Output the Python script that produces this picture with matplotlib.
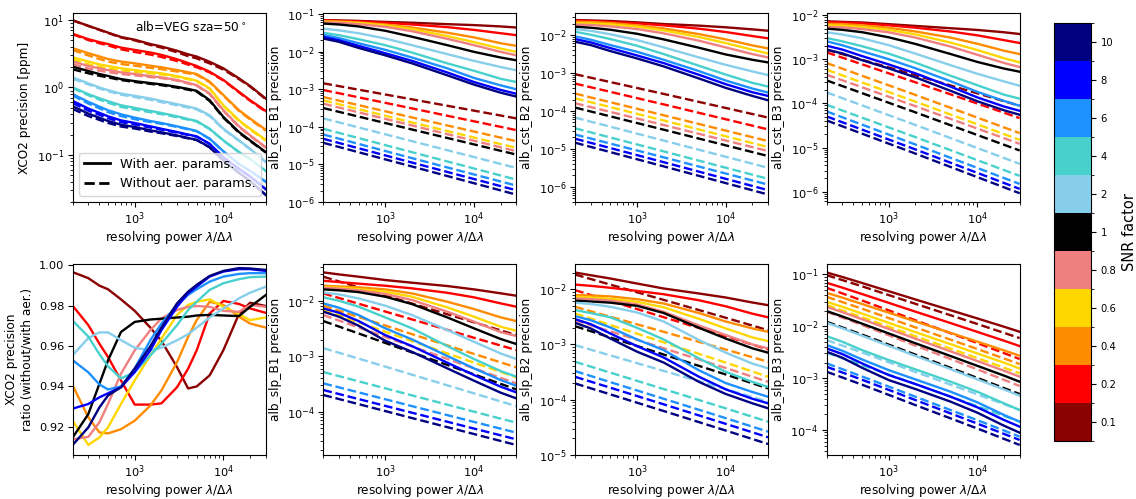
import numpy as np
import matplotlib
matplotlib.use("Agg")
import matplotlib.pyplot as plt
from matplotlib.colors import ListedColormap, BoundaryNorm
from matplotlib.cm import ScalarMappable
from matplotlib.lines import Line2D

# ---------------------------------------------------------------- data
snr_labels = ["0.1", "0.2", "0.4", "0.6", "0.8", "1", "2", "4", "6", "8", "10"]
snr_colors = ["darkred", "red", "darkorange", "gold", "lightcoral", "black",
              "skyblue", "mediumturquoise", "dodgerblue", "blue", "navy"]

res_fine = [200, 300, 400, 500, 700, 1000, 1500, 2000, 3000, 4000, 5000,
            7000, 10000, 15000, 20000, 30000]
res = [200, 300, 500, 1000, 2000, 5000, 10000, 20000, 30000]
res_dash_top = [200, 2000, 30000]
res_dash_bot = [200, 500, 2000, 10000, 30000]

# XCO2 precision [ppm] with aerosol parameters (on res_fine)
xco2_with = [
    [9.9, 8.2, 7.2, 6.5, 5.6, 5.1, 4.4, 4.05, 3.5, 3.1, 2.87, 2.4, 1.92, 1.36, 1.05, 0.685],
    [6.25, 5.2, 4.7, 4.4, 3.9, 3.6, 3.3, 3.04, 2.62, 2.3, 2.08, 1.71, 1.29, 0.86, 0.647, 0.449],
    [3.82, 3.22, 2.88, 2.64, 2.42, 2.28, 2.1, 1.99, 1.81, 1.68, 1.58, 1.22, 0.77, 0.459, 0.345, 0.236],
    [2.8, 2.42, 2.2, 2.08, 1.92, 1.81, 1.69, 1.62, 1.47, 1.35, 1.26, 0.97, 0.545, 0.325, 0.244, 0.167],
    [2.42, 2.08, 1.92, 1.81, 1.67, 1.58, 1.47, 1.41, 1.29, 1.17, 1.08, 0.814, 0.459, 0.265, 0.195, 0.130],
    [2.03, 1.75, 1.58, 1.48, 1.33, 1.24, 1.16, 1.11, 1.02, 0.95, 0.89, 0.647, 0.365, 0.218, 0.164, 0.110],
    [1.41, 1.15, 1.0, 0.91, 0.81, 0.75, 0.685, 0.63, 0.565, 0.52, 0.486, 0.387, 0.244, 0.164, 0.123, 0.079],
    [1.0, 0.795, 0.69, 0.625, 0.545, 0.497, 0.449, 0.418, 0.373, 0.34, 0.318, 0.244, 0.164, 0.11, 0.087, 0.058],
    [0.795, 0.61, 0.52, 0.459, 0.40, 0.357, 0.318, 0.297, 0.265, 0.243, 0.226, 0.174, 0.113, 0.073, 0.058, 0.040],
    [0.632, 0.486, 0.42, 0.373, 0.325, 0.297, 0.265, 0.244, 0.218, 0.2, 0.188, 0.146, 0.092, 0.062, 0.048, 0.031],
    [0.527, 0.409, 0.355, 0.318, 0.28, 0.259, 0.231, 0.216, 0.194, 0.178, 0.167, 0.13, 0.082, 0.054, 0.041, 0.0255],
]

# XCO2 precision ratio without/with aerosol parameters (on res_fine)
xco2_ratio = [
    [0.9967, 0.9937, 0.9900, 0.9882, 0.9832, 0.9775, 0.9692, 0.9626, 0.9496, 0.9390, 0.9400, 0.9455, 0.9580, 0.9760, 0.9815, 0.9799],
    [0.9800, 0.9704, 0.9612, 0.9546, 0.9430, 0.9310, 0.9310, 0.9316, 0.9396, 0.9488, 0.9579, 0.9762, 0.9824, 0.9809, 0.9787, 0.9765],
    [0.9405, 0.9247, 0.9172, 0.9167, 0.9188, 0.9230, 0.9305, 0.9380, 0.9520, 0.9646, 0.9729, 0.9820, 0.9804, 0.9746, 0.9712, 0.9692],
    [0.9230, 0.9110, 0.9147, 0.9197, 0.9313, 0.9430, 0.9554, 0.9637, 0.9754, 0.9804, 0.9820, 0.9832, 0.9795, 0.9759, 0.9729, 0.9742],
    [0.9138, 0.9150, 0.9222, 0.9313, 0.9463, 0.9579, 0.9679, 0.9737, 0.9779, 0.9795, 0.9799, 0.9795, 0.9775, 0.9770, 0.9804, 0.9795],
    [0.9147, 0.9263, 0.9413, 0.9529, 0.9670, 0.9720, 0.9732, 0.9736, 0.9742, 0.9746, 0.9752, 0.9755, 0.9752, 0.9749, 0.9795, 0.9853],
    [0.9555, 0.9640, 0.9668, 0.9668, 0.9630, 0.9592, 0.9579, 0.9592, 0.9629, 0.9659, 0.9692, 0.9742, 0.9787, 0.9837, 0.9865, 0.9895],
    [0.9726, 0.9647, 0.9560, 0.9500, 0.9440, 0.9471, 0.9554, 0.9612, 0.9704, 0.9779, 0.9820, 0.9879, 0.9912, 0.9932, 0.9942, 0.9945],
    [0.9530, 0.9470, 0.9410, 0.9385, 0.9400, 0.9490, 0.9629, 0.9712, 0.9804, 0.9854, 0.9882, 0.9920, 0.9945, 0.9958, 0.9962, 0.9962],
    [0.9290, 0.9313, 0.9346, 0.9366, 0.9396, 0.9471, 0.9579, 0.9679, 0.9795, 0.9862, 0.9895, 0.9945, 0.9970, 0.9982, 0.9982, 0.9973],
    [0.9110, 0.9197, 0.9296, 0.9355, 0.9396, 0.9488, 0.9599, 0.9692, 0.9812, 0.9870, 0.9904, 0.9948, 0.9973, 0.9987, 0.9985, 0.9978],
]

# albedo constant term, band 1
cst_b1_with = [
    [0.069, 0.068, 0.066, 0.062, 0.059, 0.054, 0.051, 0.047, 0.044],
    [0.068, 0.066, 0.064, 0.059, 0.053, 0.045, 0.038, 0.031, 0.0275],
    [0.065, 0.064, 0.060, 0.053, 0.044, 0.032, 0.024, 0.0168, 0.0143],
    [0.062, 0.061, 0.058, 0.050, 0.040, 0.026, 0.018, 0.0121, 0.0099],
    [0.060, 0.059, 0.054, 0.046, 0.035, 0.022, 0.0149, 0.0099, 0.0080],
    [0.056, 0.053, 0.047, 0.036, 0.025, 0.0149, 0.0099, 0.0070, 0.0059],
    [0.041, 0.037, 0.031, 0.0224, 0.0149, 0.0086, 0.0057, 0.0039, 0.0032],
    [0.032, 0.0275, 0.0215, 0.0149, 0.0095, 0.0049, 0.0031, 0.0019, 0.00156],
    [0.028, 0.023, 0.0168, 0.0112, 0.0070, 0.0036, 0.0020, 0.00127, 0.00100],
    [0.0248, 0.0202, 0.0143, 0.0091, 0.0057, 0.0028, 0.00156, 0.00096, 0.00076],
    [0.0224, 0.0183, 0.0126, 0.0080, 0.0049, 0.00235, 0.00133, 0.00081, 0.00064],
]
cst_b1_without = [
    [1.44e-3, 5.4e-4, 1.68e-4],
    [9.55e-4, 3.1e-4, 8.18e-5],
    [6.22e-4, 1.78e-4, 4.16e-5],
    [5.07e-4, 1.31e-4, 2.76e-5],
    [4.13e-4, 1.09e-4, 2.25e-5],
    [3.16e-4, 8.5e-5, 1.83e-5],
    [1.68e-4, 4.16e-5, 8.07e-6],
    [8.87e-5, 2.12e-5, 3.94e-6],
    [6.26e-5, 1.47e-5, 2.73e-6],
    [4.81e-5, 1.12e-5, 2.05e-6],
    [3.76e-5, 8.8e-6, 1.57e-6],
]

# albedo constant term, band 2
cst_b2_with = [
    [0.0249, 0.0242, 0.0234, 0.0216, 0.0195, 0.0177, 0.0160, 0.0141, 0.0130],
    [0.0239, 0.0234, 0.0221, 0.0203, 0.0180, 0.0147, 0.0120, 0.0094, 0.0082],
    [0.0225, 0.0221, 0.0208, 0.0180, 0.0149, 0.0106, 0.00768, 0.00533, 0.00445],
    [0.0207, 0.0203, 0.0191, 0.0166, 0.0133, 0.00886, 0.00615, 0.00409, 0.00327],
    [0.0188, 0.0184, 0.0169, 0.0144, 0.0111, 0.00708, 0.00472, 0.00315, 0.00257],
    [0.0166, 0.0156, 0.0138, 0.0108, 0.00768, 0.00462, 0.00308, 0.00223, 0.00190],
    [0.0144, 0.0129, 0.0105, 0.00738, 0.00472, 0.00257, 0.00164, 0.00110, 0.00088],
    [0.0122, 0.0102, 0.00784, 0.00522, 0.00315, 0.00155, 0.00091, 0.00055, 0.00044],
    [0.00922, 0.00753, 0.00545, 0.00362, 0.00223, 0.00112, 0.000634, 0.000389, 0.000305],
    [0.00784, 0.00640, 0.00453, 0.00290, 0.00182, 0.000895, 0.000507, 0.000311, 0.000249],
    [0.00667, 0.00545, 0.00378, 0.00242, 0.00149, 0.000716, 0.000406, 0.000249, 0.000191],
]
cst_b2_without = [
    [9.3e-4, 2.81e-4, 6.7e-5],
    [5.27e-4, 1.49e-4, 3.27e-5],
    [2.87e-4, 7.7e-5, 1.61e-5],
    [2.16e-4, 5.6e-5, 1.12e-5],
    [1.6e-4, 4.26e-5, 8.8e-6],
    [1.23e-4, 3.21e-5, 6.5e-6],
    [6.7e-5, 1.66e-5, 3.18e-6],
    [3.5e-5, 8.6e-6, 1.63e-6],
    [2.4e-5, 6.0e-6, 1.15e-6],
    [1.86e-5, 4.47e-6, 8.2e-7],
    [1.46e-5, 3.47e-6, 6.3e-7],
]

# albedo constant term, band 3
cst_b3_with = [
    [0.00731, 0.00709, 0.00687, 0.00629, 0.00574, 0.00509, 0.00465, 0.00412, 0.00376],
    [0.00706, 0.00689, 0.00654, 0.00593, 0.00523, 0.00428, 0.00351, 0.00273, 0.00235],
    [0.00646, 0.00632, 0.00594, 0.00522, 0.00430, 0.00312, 0.00226, 0.00157, 0.00132],
    [0.00593, 0.00580, 0.00544, 0.00468, 0.00369, 0.00240, 0.00163, 0.00106, 0.000855],
    [0.00543, 0.00532, 0.00488, 0.00411, 0.00312, 0.00195, 0.00127, 0.000828, 0.000670],
    [0.00498, 0.00468, 0.00414, 0.00317, 0.00224, 0.00132, 0.000874, 0.000618, 0.000524],
    [0.00411, 0.00367, 0.00301, 0.00210, 0.00135, 0.000736, 0.000471, 0.000315, 0.000252],
    [0.00305, 0.00257, 0.00199, 0.00135, 0.000844, 0.000424, 0.000259, 0.000158, 0.000128],
    [0.00257, 0.00209, 0.00153, 0.00101, 0.000630, 0.000318, 0.000183, 0.000114, 0.0000885],
    [0.00204, 0.00167, 0.00119, 0.000767, 0.000483, 0.000240, 0.000137, 0.0000850, 0.0000681],
    [0.00166, 0.00137, 0.000959, 0.000624, 0.000391, 0.000193, 0.000112, 0.0000699, 0.0000553],
]
cst_b3_without = [
    [1.66e-3, 4.38e-4, 8.85e-5],
    [1.44e-3, 3.02e-4, 4.65e-5],
    [8.26e-4, 1.56e-4, 2.12e-5],
    [5.82e-4, 1.10e-4, 1.49e-5],
    [4.48e-4, 8.67e-5, 1.21e-5],
    [3.33e-4, 6.28e-5, 8.55e-6],
    [1.78e-4, 3.25e-5, 4.26e-6],
    [9.33e-5, 1.72e-5, 2.27e-6],
    [6.58e-5, 1.17e-5, 1.49e-6],
    [5.07e-5, 9.05e-6, 1.15e-6],
    [4.11e-5, 7.28e-6, 9.16e-7],
]

# albedo slope term, band 1
slp_b1_with = [
    [0.0324, 0.0298, 0.0271, 0.0236, 0.0211, 0.0184, 0.0160, 0.0136, 0.0123],
    [0.0229, 0.0217, 0.0203, 0.0186, 0.0167, 0.0139, 0.0115, 0.00895, 0.0078],
    [0.0186, 0.0181, 0.0174, 0.0160, 0.01355, 0.00959, 0.00708, 0.00501, 0.0043],
    [0.0176, 0.0172, 0.0162, 0.0145, 0.0118, 0.00758, 0.00515, 0.0034, 0.00288],
    [0.0172, 0.0165, 0.0154, 0.0132, 0.0103, 0.00634, 0.00419, 0.00272, 0.00231],
    [0.0160, 0.0154, 0.0143, 0.0118, 0.0087, 0.0050, 0.00318, 0.00204, 0.00166],
    [0.0141, 0.0130, 0.0110, 0.00813, 0.00552, 0.00296, 0.00182, 0.00112, 0.00089],
    [0.0115, 0.0100, 0.0078, 0.0050, 0.00318, 0.00152, 0.00089, 0.00054, 0.000428],
    [0.00895, 0.00748, 0.00552, 0.00318, 0.00201, 0.00101, 0.000604, 0.000372, 0.000294],
    [0.00727, 0.00608, 0.0043, 0.0024, 0.00152, 0.000764, 0.000458, 0.000282, 0.000223],
    [0.00634, 0.00515, 0.00355, 0.0019, 0.0012, 0.000604, 0.000362, 0.00022, 0.000174],
]
slp_b1_without = [
    [0.0271, 0.0174, 0.00889, 0.00408, 0.0024],
    [0.01355, 0.00883, 0.00461, 0.00215, 0.00129],
    [0.00813, 0.0051, 0.0025, 0.0011, 0.00063],
    [0.00679, 0.00408, 0.00187, 0.000766, 0.000416],
    [0.00552, 0.0033, 0.0015, 0.000604, 0.000324],
    [0.0043, 0.00257, 0.00117, 0.000471, 0.000252],
    [0.0014, 0.000906, 0.000465, 0.000214, 0.000126],
    [0.000519, 0.000353, 0.000197, 0.0001, 0.0000634],
    [0.000324, 0.000223, 0.000126, 0.0000655, 0.0000419],
    [0.000246, 0.000169, 0.0000959, 0.0000497, 0.0000318],
    [0.0002, 0.000137, 0.0000769, 0.0000396, 0.0000251],
]

# albedo slope term, band 2
slp_b2_with = [
    [0.0200, 0.0179, 0.0156, 0.01265, 0.01028, 0.00835, 0.00707, 0.00574, 0.00514],
    [0.0121, 0.0115, 0.0106, 0.0093, 0.0081, 0.0063, 0.0049, 0.0036, 0.0031],
    [0.0078, 0.0077, 0.0074, 0.0066, 0.0055, 0.0037, 0.0026, 0.00195, 0.00169],
    [0.0073, 0.0071, 0.0067, 0.0059, 0.0047, 0.0029, 0.00195, 0.00134, 0.00115],
    [0.0068, 0.0066, 0.0062, 0.0053, 0.0039, 0.0022, 0.00148, 0.0010, 0.00085],
    [0.0062, 0.0060, 0.0057, 0.0050, 0.0037, 0.0020, 0.00128, 0.00085, 0.00071],
    [0.0057, 0.0054, 0.0048, 0.0038, 0.0026, 0.0012, 0.00071, 0.00045, 0.00037],
    [0.0042, 0.0037, 0.0031, 0.0020, 0.00123, 0.00056, 0.00032, 0.00021, 0.00017],
    [0.00325, 0.00275, 0.00203, 0.00123, 0.00079, 0.00034, 0.0002, 0.000138, 0.000113],
    [0.00287, 0.00233, 0.00158, 0.00093, 0.00058, 0.00026, 0.000154, 0.000104, 0.000086],
    [0.00247, 0.00195, 0.00128, 0.00074, 0.00047, 0.00021, 0.000127, 0.000086, 0.00007],
]
slp_b2_without = [
    [0.0184, 0.0121, 0.0064, 0.00304, 0.00181],
    [0.0096, 0.00614, 0.00311, 0.00141, 0.00081],
    [0.0048, 0.00317, 0.00169, 0.00081, 0.000486],
    [0.00363, 0.00225, 0.00109, 0.000469, 0.00026],
    [0.00275, 0.00173, 0.000853, 0.000375, 0.000211],
    [0.00214, 0.00134, 0.000657, 0.000286, 0.00016],
    [0.000972, 0.000634, 0.000332, 0.000156, 0.000092],
    [0.000486, 0.000309, 0.000156, 0.0000698, 0.00004],
    [0.00033, 0.000208, 0.000104, 0.0000464, 0.0000264],
    [0.00026, 0.000165, 0.0000824, 0.0000366, 0.0000209],
    [0.000197, 0.000125, 0.0000624, 0.0000277, 0.0000158],
]

# albedo slope term, band 3
slp_b3_with = [
    [0.1093, 0.0895, 0.0686, 0.0476, 0.0330, 0.0204, 0.0142, 0.00982, 0.00786],
    [0.0691, 0.0558, 0.0420, 0.0284, 0.0192, 0.01154, 0.00781, 0.00528, 0.00416],
    [0.0443, 0.0358, 0.0270, 0.01834, 0.01243, 0.00747, 0.00507, 0.00343, 0.00271],
    [0.0297, 0.0238, 0.01762, 0.01168, 0.00774, 0.00452, 0.00300, 0.00199, 0.00154],
    [0.0238, 0.0188, 0.01374, 0.00892, 0.00579, 0.00329, 0.00214, 0.00139, 0.00107],
    [0.0197, 0.0155, 0.01129, 0.00730, 0.00472, 0.00267, 0.00173, 0.00112, 0.000855],
    [0.01172, 0.00917, 0.00660, 0.00421, 0.00269, 0.00149, 0.000948, 0.000605, 0.000459],
    [0.00648, 0.00504, 0.00348, 0.00224, 0.00148, 0.000855, 0.000548, 0.000327, 0.000243],
    [0.00435, 0.00338, 0.00230, 0.00143, 0.000948, 0.000548, 0.000342, 0.000195, 0.000145],
    [0.00375, 0.00292, 0.00193, 0.00115, 0.000771, 0.000439, 0.000274, 0.000156, 0.000116],
    [0.00324, 0.00248, 0.00159, 0.000920, 0.000618, 0.000352, 0.000216, 0.000121, 0.0000889],
]
slp_b3_without = [
    [0.0971, 0.0592, 0.0272, 0.0111, 0.00593],
    [0.0553, 0.0316, 0.0131, 0.00475, 0.00234],
    [0.0371, 0.0219, 0.00954, 0.00365, 0.00187],
    [0.0257, 0.015, 0.00646, 0.00244, 0.00124],
    [0.0191, 0.01064, 0.00425, 0.00148, 0.000705],
    [0.01225, 0.00694, 0.00285, 0.00101, 0.000494],
    [0.00543, 0.00313, 0.00132, 0.000488, 0.000243],
    [0.0031, 0.0018, 0.000769, 0.000288, 0.000145],
    [0.00193, 0.00108, 0.000439, 0.000155, 0.0000745],
    [0.00166, 0.000935, 0.000379, 0.000133, 0.0000643],
    [0.00133, 0.00075, 0.000303, 0.000107, 0.0000515],
]

# XCO2 precision without aerosol parameters follows from the ratio
xco2_without = [list(np.array(w) * np.array(r)) for w, r in zip(xco2_with, xco2_ratio)]

# ---------------------------------------------------------------- figure
plt.rcParams["font.family"] = "DejaVu Sans"
TICK_FS = 8.2
LABEL_FS = 8.7
LW = 1.7

fig = plt.figure(figsize=(11.36, 4.99), dpi=100)

lefts = [0.064, 0.2846, 0.5062, 0.7277]
width = 0.1699
bottoms = [0.5952, 0.0882]
heights = [0.3778, 0.3818]

xlabel = r"resolving power $\lambda/\Delta\lambda$"

log_panels = [
    (0, 0, "XCO2 precision [ppm]", xco2_with, res_fine, xco2_without, res_fine, (0.02, 12.5)),
    (0, 1, "alb_cst_B1 precision", cst_b1_with, res, cst_b1_without, res_dash_top, (1.0e-6, 1.04e-1)),
    (0, 2, "alb_cst_B2 precision", cst_b2_with, res, cst_b2_without, res_dash_top, (4.0e-7, 3.7e-2)),
    (0, 3, "alb_cst_B3 precision", cst_b3_with, res, cst_b3_without, res_dash_top, (5.8e-7, 1.1e-2)),
    (1, 1, "alb_slp_B1 precision", slp_b1_with, res, slp_b1_without, res_dash_bot, (1.66e-5, 4.5e-2)),
    (1, 2, "alb_slp_B2 precision", slp_b2_with, res, slp_b2_without, res_dash_bot, (1.0e-5, 2.8e-2)),
    (1, 3, "alb_slp_B3 precision", slp_b3_with, res, slp_b3_without, res_dash_bot, (3.3e-5, 1.56e-1)),
]


def style_axis(ax):
    ax.set_xscale("log")
    ax.set_xlim(200, 30000)
    ax.tick_params(labelsize=TICK_FS, pad=2.5)
    ax.set_xlabel(xlabel, fontsize=LABEL_FS, labelpad=1.5)


for row, col, ylab, with_vals, with_x, wo_vals, wo_x, ylim in log_panels:
    ax = fig.add_axes([lefts[col], bottoms[row], width, heights[row]])
    for color, yw, yo in zip(snr_colors, with_vals, wo_vals):
        ax.plot(with_x, yw, color=color, lw=LW, ls="-")
        ax.plot(wo_x, yo, color=color, lw=LW, ls="--")
    ax.set_yscale("log")
    ax.set_ylim(*ylim)
    ax.set_ylabel(ylab, fontsize=LABEL_FS)
    style_axis(ax)
    if row == 0 and col == 0:
        ax.text(0.9, 0.93, r"alb=VEG sza=50$^\circ$", transform=ax.transAxes,
                ha="right", va="center", fontsize=LABEL_FS)
        handles = [Line2D([], [], color="black", lw=2, ls="-"),
                   Line2D([], [], color="black", lw=2, ls="--")]
        ax.legend(handles, ["With aer. params.", "Without aer. params."],
                  loc="lower left", fontsize=9.3)

# ratio panel
ax = fig.add_axes([lefts[0], bottoms[1], width, heights[1]])
for color, r in zip(snr_colors, xco2_ratio):
    ax.plot(res_fine, r, color=color, lw=LW)
ax.set_ylim(0.906, 1.0005)
ax.set_ylabel("XCO2 precision\nratio (without/with aer.)", fontsize=LABEL_FS)
style_axis(ax)

# discrete colour bar for the SNR factors
cax = fig.add_axes([0.9281, 0.1168, 0.0323, 0.8365])
cmap = ListedColormap(snr_colors)
norm = BoundaryNorm(np.arange(len(snr_colors) + 1), cmap.N)
cb = fig.colorbar(ScalarMappable(norm=norm, cmap=cmap), cax=cax,
                  ticks=np.arange(len(snr_colors)) + 0.5)
cb.set_ticklabels(snr_labels)
cb.ax.tick_params(labelsize=7.2)
cb.set_label("SNR factor", fontsize=10.5)

fig.savefig("out.png", dpi=100)
